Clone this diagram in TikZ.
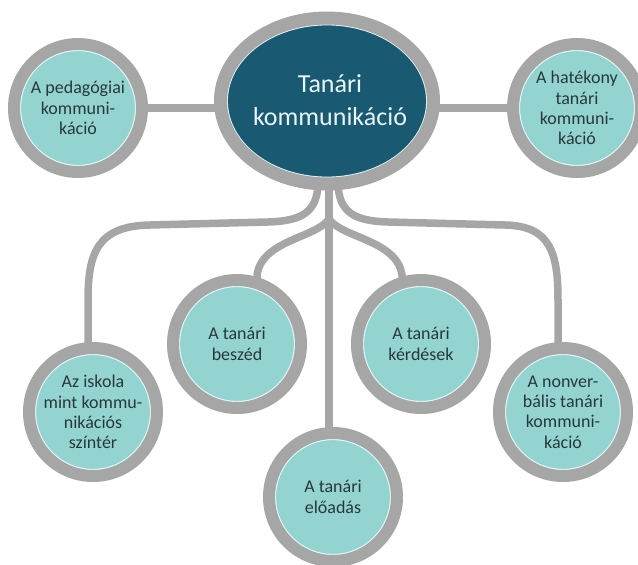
\documentclass[tikz,border=0pt]{standalone}
\usepackage{fontspec}
\setmainfont{Carlito}
\usetikzlibrary{shapes.geometric,backgrounds}

\definecolor{ringgrey}{RGB}{166,166,166}
\definecolor{leafteal}{RGB}{148,212,208}
\definecolor{hubblue}{RGB}{26,89,114}
\definecolor{leaftext}{RGB}{40,56,58}
\definecolor{hubtext}{RGB}{232,244,246}
\definecolor{rimline}{RGB}{228,246,246}

\tikzset{
  leaf/.style={circle, minimum size=128pt, inner sep=0pt, outer sep=0pt,
    fill=leafteal, draw=ringgrey, line width=12pt,
    text=leaftext, font=\fontsize{18}{20.3}\selectfont, align=center,
    path picture={\draw[rimline, line width=1.4pt]
      (path picture bounding box.center) circle[radius=57.6pt];}},
  hub/.style={ellipse, minimum width=213pt, minimum height=166pt,
    inner sep=0pt, outer sep=0pt, fill=hubblue, draw=ringgrey, line width=13pt,
    path picture={\draw[rimline, line width=1.4pt]
      (path picture bounding box.center) ellipse[x radius=99.8pt, y radius=76.3pt];}},
  hublabel/.style={text=hubtext, font=\fontsize{26}{33}\selectfont, align=center},
  link/.style={draw=ringgrey, line width=7.5pt},
}

\begin{document}
\begin{tikzpicture}[x=1pt, y=-1pt]
  \useasboundingbox (0,0) rectangle (638,565);

  % central topic
  \node[hub] (hubnode) at (327,101) {};
  \node[hublabel] (hubtitle) at (330,100) {Tanári\\kommunikáció};

  % side topics
  \node[leaf] (pedag) at (78,108) {A pedagógiai\\kommuni-\\káció};
  \node[leaf] (hatek) at (577,108) {A hatékony\\tanári\\kommuni-\\káció};

  % lower topics
  \node[leaf] (iskola) at (93,412) {Az iskola\\mint kommu-\\nikációs\\színtér};
  \node[leaf] (beszed) at (237,344) {A tanári\\beszéd};
  \node[leaf] (kerdes) at (421,344) {A tanári\\kérdések};
  \node[leaf] (nonverb) at (563,412) {A nonver-\\bális tanári\\kommuni-\\káció};
  \node[leaf] (eloadas) at (333,497) {A tanári\\előadás};

  \begin{scope}[on background layer]
    % horizontal links
    \draw[link] (pedag.center) -- (pedag.center -| hubnode.center);
    \draw[link] (hatek.center) -- (hatek.center -| hubnode.center);

    % straight trunk
    \draw[link] ([xshift=2pt]hubnode.south) -- ([xshift=-4pt]eloadas.north);

    % outer branches
    \draw[link] ([xshift=-9pt]hubnode.south)
      .. controls (317,212) and (302,221) .. (268,222)
      -- (150,225)
      .. controls (98,226) and (88,252) .. (88,300)
      -- ([xshift=-5pt]iskola.north);
    \draw[link] ([xshift=11pt]hubnode.south)
      .. controls (339,212) and (354,221) .. (388,222)
      -- (505,225)
      .. controls (550,226) and (558,252) .. (558,300)
      -- ([xshift=-5pt]nonverb.north);

    % inner branches
    \draw[link] ([xshift=2pt]hubnode.south) -- (329,219)
      .. controls (316,238) and (262,240) .. (257,275)
      -- ([xshift=20pt]beszed.north);
    \draw[link] ([xshift=2pt]hubnode.south) -- (329,219)
      .. controls (342,238) and (397,240) .. (402,275)
      -- ([xshift=-19pt]kerdes.north);
  \end{scope}
\end{tikzpicture}
\end{document}
